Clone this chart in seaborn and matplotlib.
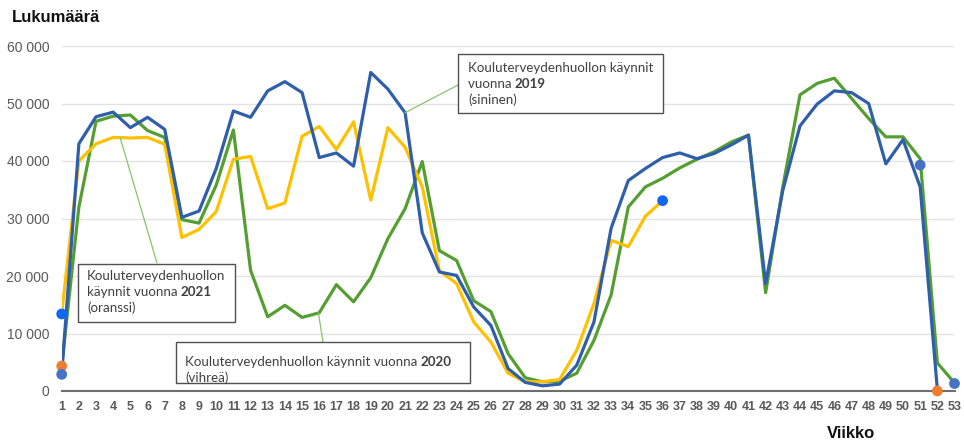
import matplotlib
matplotlib.use("Agg")
import matplotlib.pyplot as plt
from matplotlib.patches import Rectangle
from matplotlib.text import Annotation
import numpy as np
import pandas as pd
import seaborn as sns

weeks = list(range(1, 54))

visits_2019 = [3000, 43000, 47700, 48500, 45800, 47600, 45500, 30200, 31300, 38700,
               48700, 47600, 52200, 53800, 51900, 40600, 41400, 39100, 55400, 52500,
               48400, 27500, 20700, 20100, 14600, 11400, 3900, 1500, 900, 1200,
               4500, 12000, 28300, 36600, 38700, 40600, 41400, 40400, 41300, 42800,
               44500, 18700, 34900, 46100, 49900, 52200, 51900, 50000, 39500, 43700,
               35500, 300, None]
visits_2020 = [4300, 32000, 46900, 47800, 48000, 45300, 44100, 29800, 29200, 35800,
               45400, 21000, 12900, 14900, 12800, 13600, 18500, 15500, 19700, 26500,
               31700, 39900, 24400, 22700, 15700, 13800, 6500, 2300, 1600, 1700,
               3100, 8800, 16700, 32000, 35500, 37000, 38800, 40300, 41600, 43300,
               44500, 17100, 35500, 51500, 53500, 54400, 50900, 47400, 44200, 44200,
               40400, 4900, 1400]
visits_2021 = [13500, 40000, 43000, 44100, 44000, 44100, 42900, 26700, 28100, 31200,
               40300, 40800, 31700, 32700, 44300, 46000, 42000, 46800, 33200, 45800,
               42400, 35500, 20900, 18700, 12000, 8500, 3100, 1600, 1600, 2000,
               7100, 15200, 26200, 25100, 30400, 33100] + [None] * 17

dot_weeks = [1, 1, 1, 36, 51, 52, 53]
dot_values = [13400, 4350, 2900, 33100, 39300, 0, 1300]
dot_kind = ["a", "b", "c", "a", "c", "b", "c"]

y_ticks = [0, 10000, 20000, 30000, 40000, 50000, 60000]
y_labels = ["0", "10 000", "20 000", "30 000", "40 000", "50 000", "60 000"]

df = pd.DataFrame({
    "week": weeks * 3,
    "value": visits_2020 + visits_2021 + visits_2019,
    "year": ["2020"] * 53 + ["2021"] * 53 + ["2019"] * 53,
})
df = df.dropna()
dots = pd.DataFrame({"week": dot_weeks, "value": dot_values, "kind": dot_kind})

sns.set_theme(style="white")
plt.rcParams["font.family"] = ["Liberation Sans", "DejaVu Sans"]

W, H = 964, 443
fig = plt.figure(figsize=(W / 100, H / 100), dpi=100)
ax = fig.add_axes([61.7 / W, 1 - 391 / H, (954.5 - 61.7) / W, (391 - 46) / H])

BLUE = "#2F5FAA"
GREEN = "#559E32"
YELLOW = "#FFC000"
palette = {"2019": BLUE, "2020": GREEN, "2021": YELLOW}

sns.lineplot(data=df, x="week", y="value", hue="year", palette=palette,
             hue_order=["2020", "2021", "2019"], linewidth=2.3, legend=False,
             ax=ax, estimator=None, sort=True)

dot_pal = {"a": "#0F66F0", "b": "#ED7D31", "c": "#4472C4"}
sns.scatterplot(data=dots, x="week", y="value", hue="kind", palette=dot_pal,
                s=60, linewidth=0, legend=False, ax=ax, zorder=5)
for c in ax.collections:
    c.set_clip_on(False)

ax.set_xlim(1, 53)
ax.set_ylim(0, 60000)
ax.set_yticks(y_ticks)
ax.set_yticklabels(y_labels)
ax.set_xticks(weeks)
ax.set_xticklabels([str(w) for w in weeks])
ax.tick_params(axis="y", length=0, pad=9, labelsize=10, labelcolor="#595959")
ax.tick_params(axis="x", length=0, pad=7.5, labelsize=9, labelcolor="#595959")
for lbl in ax.get_xticklabels():
    lbl.set_fontweight("bold")
ax.yaxis.grid(True, color="#E3E3E3", linewidth=1.0)
ax.xaxis.grid(False)
for s in ["left", "right", "top"]:
    ax.spines[s].set_visible(False)
ax.spines["bottom"].set_color("#6E6E6E")
ax.spines["bottom"].set_linewidth(1.5)
ax.set_xlabel("")
ax.set_ylabel("")

def fx(x):
    return x / W

def fy(y):
    return 1 - y / H

fig.text(fx(12), fy(17), "Lukumäärä", fontsize=12, fontweight="bold",
         color="#111111", ha="left", va="center")
fig.text(fx(851), fy(434), "Viikko", fontsize=12, fontweight="bold",
         color="#111111", ha="center", va="center")

ANN_FONT = ["Lato", "DejaVu Sans"]
ANN_COLOR = "#404040"
ANN_SIZE = 9.6
LEADER = "#8CC26A"

def box(x0, y0, x1, y1):
    r = Rectangle((fx(x0), fy(y1)), fx(x1) - fx(x0), fy(y0) - fy(y1),
                  transform=fig.transFigure, facecolor="white",
                  edgecolor="#505050", linewidth=1.0, zorder=10)
    fig.add_artist(r)

def line(x, y, parts):
    last = None
    for txt, bold in parts:
        kw = dict(fontsize=ANN_SIZE, family=ANN_FONT, color=ANN_COLOR,
                  fontweight="bold" if bold else "normal", zorder=11)
        if last is None:
            last = fig.text(fx(x), fy(y), txt, ha="left", va="center", **kw)
        else:
            a = Annotation(txt, xy=(1, 0), xycoords=last, ha="left",
                           va="bottom", annotation_clip=False, **kw)
            fig.add_artist(a)
            last = a

def leader(wx, wy, px, py):
    ax.annotate("", xy=(wx, wy), xycoords="data",
                xytext=(px, H - py), textcoords="figure pixels",
                arrowprops=dict(arrowstyle="-", color=LEADER, lw=0.9,
                                shrinkA=0, shrinkB=0), annotation_clip=False)

# 2019 box
leader(21, 48400, 458, 85)
box(458, 54, 663, 113)
line(468, 68, [("Kouluterveydenhuollon käynnit", False)])
line(468, 84, [("vuonna ", False), ("2019", True)])
line(468, 100, [("(sininen)", False)])

# 2021 box
leader(4.4, 44100, 157, 263)
box(77.5, 263.5, 235.5, 321.5)
line(87, 276, [("Kouluterveydenhuollon", False)])
line(87, 292, [("käynnit vuonna ", False), ("2021", True)])
line(87, 308, [("(oranssi)", False)])

# 2020 box
leader(15.95, 13600, 323, 342)
box(176, 341.7, 470, 382.7)
line(185, 361.7, [("Kouluterveydenhuollon käynnit vuonna ", False), ("2020", True)])
line(185, 377.7, [("(vihreä)", False)])

fig.savefig("out.png", dpi=100)
